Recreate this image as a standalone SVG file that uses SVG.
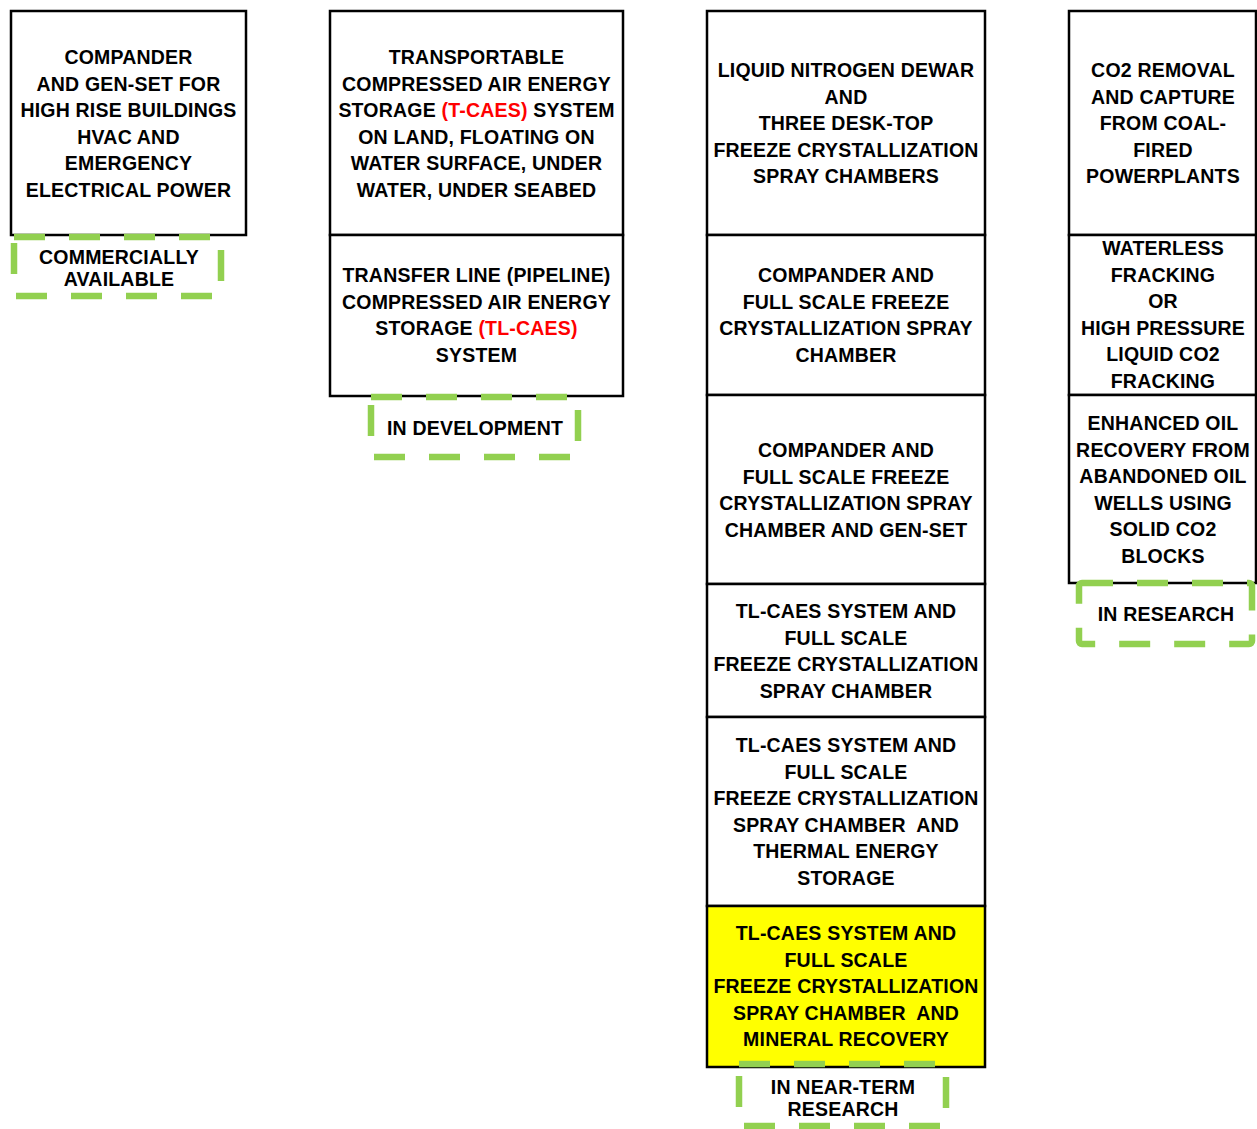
<svg xmlns="http://www.w3.org/2000/svg" width="1257" height="1129" viewBox="0 0 1257 1129">
<style>
  .box{fill:#fff;stroke:#000;stroke-width:2.5}
  .yel{fill:#FFFF00;stroke:#000;stroke-width:2.5}
  .dash{fill:none;stroke:#92D050;stroke-width:6.5;stroke-dasharray:31 24}
  text{font-family:"Liberation Sans",Arial,sans-serif;font-weight:bold;font-size:19.5px;letter-spacing:0.2px;fill:#000;text-anchor:middle}
  .red{fill:#FF0000}
</style>
<rect width="1257" height="1129" fill="#fff"/>
<g id="connectors"></g>

<g id="n1">
  <rect class="box" x="11" y="11" width="235" height="224"/>
  <text x="128.5" y="64">COMPANDER</text>
  <text x="128.5" y="90.5">AND GEN-SET FOR</text>
  <text x="128.5" y="117">HIGH RISE BUILDINGS</text>
  <text x="128.5" y="143.5">HVAC AND</text>
  <text x="128.5" y="170">EMERGENCY</text>
  <text x="128.5" y="196.5">ELECTRICAL POWER</text>
</g>
<g id="s1">
  <rect class="dash" x="14" y="237" width="207" height="59"/>
  <text x="119" y="264">COMMERCIALLY</text>
  <text x="119" y="286">AVAILABLE</text>
</g>

<g id="n2">
  <rect class="box" x="330" y="11" width="293" height="224"/>
  <text x="476.5" y="64">TRANSPORTABLE</text>
  <text x="476.5" y="90.5">COMPRESSED AIR ENERGY</text>
  <text x="476.5" y="117">STORAGE <tspan class="red">(T-CAES)</tspan> SYSTEM</text>
  <text x="476.5" y="143.5">ON LAND, FLOATING ON</text>
  <text x="476.5" y="170">WATER SURFACE, UNDER</text>
  <text x="476.5" y="196.5">WATER, UNDER SEABED</text>
</g>
<g id="n3">
  <rect class="box" x="330" y="235" width="293" height="161"/>
  <text x="476.5" y="282">TRANSFER LINE (PIPELINE)</text>
  <text x="476.5" y="308.5">COMPRESSED AIR ENERGY</text>
  <text x="476.5" y="335">STORAGE <tspan class="red">(TL-CAES)</tspan></text>
  <text x="476.5" y="361.5">SYSTEM</text>
</g>
<g id="s2">
  <rect class="dash" x="371" y="397" width="207" height="60"/>
  <text x="475" y="435">IN DEVELOPMENT</text>
</g>

<g id="n4">
  <rect class="box" x="707" y="11" width="278" height="224"/>
  <text x="846" y="77">LIQUID NITROGEN DEWAR</text>
  <text x="846" y="103.5">AND</text>
  <text x="846" y="130">THREE DESK-TOP</text>
  <text x="846" y="156.5">FREEZE CRYSTALLIZATION</text>
  <text x="846" y="183">SPRAY CHAMBERS</text>
</g>
<g id="n5">
  <rect class="box" x="707" y="235" width="278" height="160"/>
  <text x="846" y="282">COMPANDER AND</text>
  <text x="846" y="308.5">FULL SCALE FREEZE</text>
  <text x="846" y="335">CRYSTALLIZATION SPRAY</text>
  <text x="846" y="361.5">CHAMBER</text>
</g>
<g id="n6">
  <rect class="box" x="707" y="395" width="278" height="189"/>
  <text x="846" y="457">COMPANDER AND</text>
  <text x="846" y="483.5">FULL SCALE FREEZE</text>
  <text x="846" y="510">CRYSTALLIZATION SPRAY</text>
  <text x="846" y="536.5">CHAMBER AND GEN-SET</text>
</g>
<g id="n7">
  <rect class="box" x="707" y="584" width="278" height="133"/>
  <text x="846" y="618">TL-CAES SYSTEM AND</text>
  <text x="846" y="644.5">FULL SCALE</text>
  <text x="846" y="671">FREEZE CRYSTALLIZATION</text>
  <text x="846" y="697.5">SPRAY CHAMBER</text>
</g>
<g id="n8">
  <rect class="box" x="707" y="717" width="278" height="189"/>
  <text x="846" y="752">TL-CAES SYSTEM AND</text>
  <text x="846" y="778.5">FULL SCALE</text>
  <text x="846" y="805">FREEZE CRYSTALLIZATION</text>
  <text x="846" y="831.5" xml:space="preserve">SPRAY CHAMBER  AND</text>
  <text x="846" y="858">THERMAL ENERGY</text>
  <text x="846" y="884.5">STORAGE</text>
</g>
<g id="n9">
  <rect class="yel" x="707" y="906" width="278" height="161"/>
  <text x="846" y="940">TL-CAES SYSTEM AND</text>
  <text x="846" y="966.5">FULL SCALE</text>
  <text x="846" y="993">FREEZE CRYSTALLIZATION</text>
  <text x="846" y="1019.5" xml:space="preserve">SPRAY CHAMBER  AND</text>
  <text x="846" y="1046">MINERAL RECOVERY</text>
</g>
<g id="s3">
  <rect class="dash" x="739" y="1064" width="207" height="62"/>
  <text x="843" y="1094">IN NEAR-TERM</text>
  <text x="843" y="1116">RESEARCH</text>
</g>

<g id="n10">
  <rect class="box" x="1069" y="11" width="187" height="224"/>
  <text x="1163" y="77">CO2 REMOVAL</text>
  <text x="1163" y="103.5">AND CAPTURE</text>
  <text x="1163" y="130">FROM COAL-</text>
  <text x="1163" y="156.5">FIRED</text>
  <text x="1163" y="183">POWERPLANTS</text>
</g>
<g id="n11">
  <rect class="box" x="1069" y="235" width="187" height="160"/>
  <text x="1163" y="255">WATERLESS</text>
  <text x="1163" y="281.5">FRACKING</text>
  <text x="1163" y="308">OR</text>
  <text x="1163" y="334.5">HIGH PRESSURE</text>
  <text x="1163" y="361">LIQUID CO2</text>
  <text x="1163" y="387.5">FRACKING</text>
</g>
<g id="n12">
  <rect class="box" x="1069" y="395" width="187" height="188"/>
  <text x="1163" y="430">ENHANCED OIL</text>
  <text x="1163" y="456.5">RECOVERY FROM</text>
  <text x="1163" y="483">ABANDONED OIL</text>
  <text x="1163" y="509.5">WELLS USING</text>
  <text x="1163" y="536">SOLID CO2</text>
  <text x="1163" y="562.5">BLOCKS</text>
</g>
<g id="s4">
  <rect class="dash" x="1079" y="583" width="173" height="61" rx="3"/>
  <text x="1166" y="621">IN RESEARCH</text>
</g>
</svg>
